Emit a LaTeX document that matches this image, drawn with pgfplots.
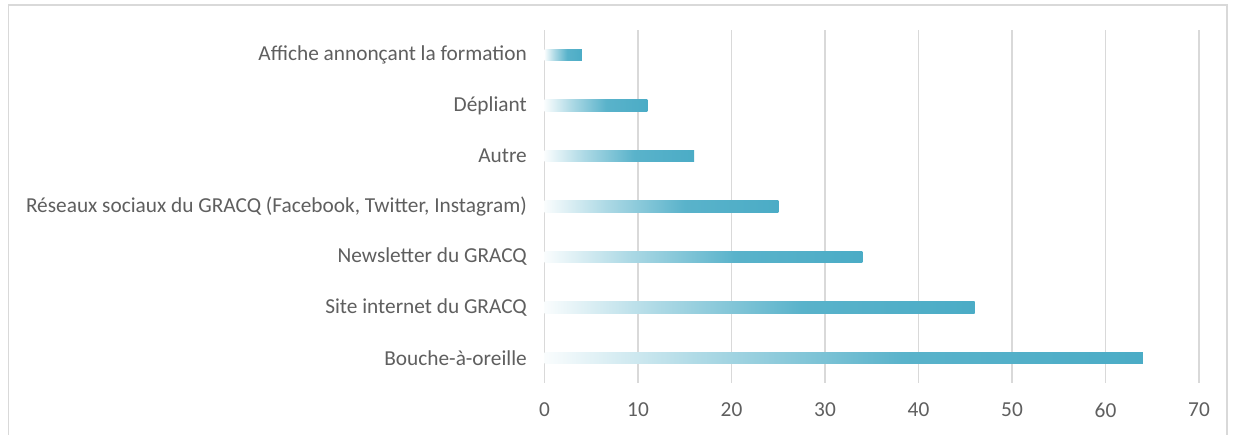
\documentclass[border=0pt]{standalone}
\usepackage{fontspec}
\setmainfont{Carlito}
\usepackage{pgfplots}
\pgfplotsset{compat=1.18}
\definecolor{barc}{HTML}{4BACC6}
\definecolor{txt}{HTML}{5F5F5F}
\definecolor{gridc}{HTML}{D9D9D9}
\pgfdeclarehorizontalshading{barfade}{100bp}{color(0bp)=(barc!3); color(25bp)=(barc!3); color(38bp)=(barc!45); color(55bp)=(barc!92); color(75bp)=(barc); color(100bp)=(barc)}
\begin{document}
\begin{tikzpicture}[x=1bp,y=1bp]
\path[use as bounding box, fill=white] (0,0) rectangle (1233,435);
\draw[gridc, line width=1.5bp] (8.5,0) -- (8.5,430) -- (1227,430) -- (1227,0);
\begin{axis}[at={(544.5bp,52bp)}, anchor=south west, scale only axis,
  width=654.5bp, height=353bp,
  xmin=0, xmax=70, ymin=-0.5, ymax=6.5,
  xtick={0,10,...,70}, ytick={0,...,6},
  yticklabels={Bouche-à-oreille, Site internet du GRACQ, Newsletter du GRACQ, {Réseaux sociaux du GRACQ (Facebook, Twitter, Instagram)}, Autre, Dépliant, Affiche annonçant la formation},
  axis line style={draw=none}, major tick length=0pt,
  xmajorgrids, grid style={gridc, line width=1.8bp},
  /pgf/number format/assume math mode=true,
  tick label style={font=\fontsize{21.4}{25}\selectfont, text=txt},
  xticklabel style={anchor=center, yshift=-27bp},
  yticklabel style={anchor=east, inner sep=0pt, xshift=-17.5bp},
]
\addplot[xbar, bar width=11.5bp, bar shift=0pt, draw=none, shading=barfade] coordinates {(64,0)};
\addplot[xbar, bar width=11.5bp, bar shift=0pt, draw=none, shading=barfade] coordinates {(46,1)};
\addplot[xbar, bar width=11.5bp, bar shift=0pt, draw=none, shading=barfade] coordinates {(34,2)};
\addplot[xbar, bar width=11.5bp, bar shift=0pt, draw=none, shading=barfade] coordinates {(25,3)};
\addplot[xbar, bar width=11.5bp, bar shift=0pt, draw=none, shading=barfade] coordinates {(16,4)};
\addplot[xbar, bar width=11.5bp, bar shift=0pt, draw=none, shading=barfade] coordinates {(11,5)};
\addplot[xbar, bar width=11.5bp, bar shift=0pt, draw=none, shading=barfade] coordinates {(4,6)};
\end{axis}
\end{tikzpicture}
\end{document}
